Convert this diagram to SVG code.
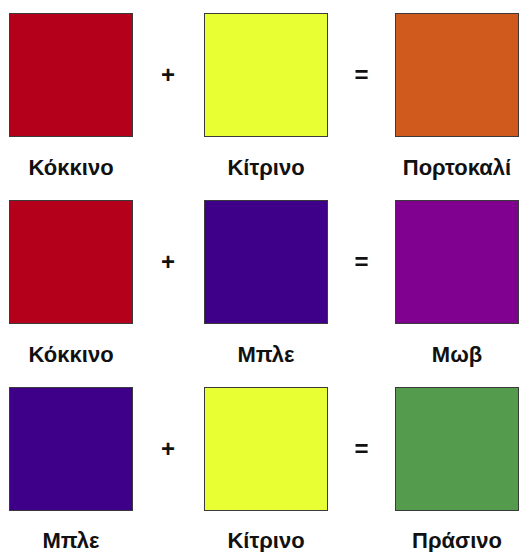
<svg xmlns="http://www.w3.org/2000/svg" width="520" height="552" viewBox="0 0 520 552">
<style>
.sq{stroke:#3a3a3a;stroke-width:1}
.lbl{font-family:"Liberation Sans",Arial,sans-serif;font-weight:bold;font-size:22px;fill:#111;text-anchor:middle}
.op{font-family:"Liberation Sans",Arial,sans-serif;font-weight:bold;font-size:24px;fill:#111;text-anchor:middle}
</style>
<rect width="520" height="552" fill="#fff"/>
<g id="row1">
<g id="red1"><rect class="sq" x="9.5" y="13.5" width="123" height="123" fill="#B4001A"/><text class="lbl" x="71" y="175">Κόκκινο</text></g>
<text class="op" x="168" y="83">+</text>
<g id="yellow1"><rect class="sq" x="204.5" y="13.5" width="123" height="123" fill="#E8FF33"/><text class="lbl" x="266" y="175">Κίτρινο</text></g>
<text class="op" x="361.5" y="83">=</text>
<g id="orange"><rect class="sq" x="395.5" y="13.5" width="123" height="123" fill="#D05A1E"/><text class="lbl" x="457" y="175">Πορτοκαλί</text></g>
</g>
<g id="row2">
<g id="red2"><rect class="sq" x="9.5" y="200.5" width="123" height="123" fill="#B4001A"/><text class="lbl" x="71" y="362">Κόκκινο</text></g>
<text class="op" x="168" y="270">+</text>
<g id="blue1"><rect class="sq" x="204.5" y="200.5" width="123" height="123" fill="#3E0088"/><text class="lbl" x="266" y="362">Μπλε</text></g>
<text class="op" x="361.5" y="270">=</text>
<g id="purple"><rect class="sq" x="395.5" y="200.5" width="123" height="123" fill="#800090"/><text class="lbl" x="457" y="362">Μωβ</text></g>
</g>
<g id="row3">
<g id="blue2"><rect class="sq" x="9.5" y="387.5" width="123" height="123" fill="#3E0088"/><text class="lbl" x="71" y="548">Μπλε</text></g>
<text class="op" x="168" y="457">+</text>
<g id="yellow2"><rect class="sq" x="204.5" y="387.5" width="123" height="123" fill="#E8FF33"/><text class="lbl" x="266" y="548">Κίτρινο</text></g>
<text class="op" x="361.5" y="457">=</text>
<g id="green"><rect class="sq" x="395.5" y="387.5" width="123" height="123" fill="#549B4D"/><text class="lbl" x="457" y="548">Πράσινο</text></g>
</g>
<g id="connectors"/>
</svg>
